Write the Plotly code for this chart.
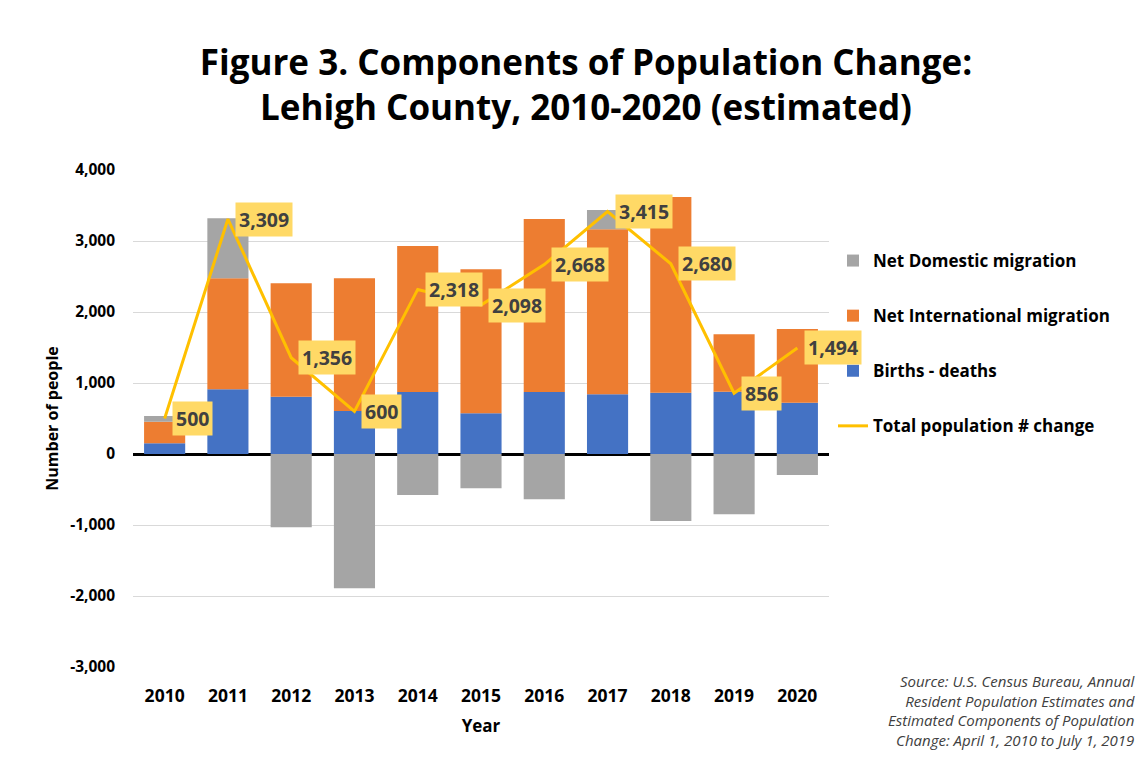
import plotly.graph_objects as go

years = ["2010", "2011", "2012", "2013", "2014", "2015", "2016", "2017", "2018", "2019", "2020"]
births_deaths = [150, 911, 807, 606, 873, 573, 873, 840, 864, 878, 723]
net_international = [305, 1564, 1597, 1869, 2057, 2028, 2437, 2324, 2756, 808, 1038]
net_domestic = [80, 844, -1030, -1890, -577, -483, -638, 273, -944, -849, -296]
total_change = [500, 3309, 1356, 600, 2318, 2098, 2668, 3415, 2680, 856, 1494]
total_labels = ["500", "3,309", "1,356", "600", "2,318", "2,098", "2,668", "3,415", "2,680", "856", "1,494"]
y_tick_values = [-3000, -2000, -1000, 0, 1000, 2000, 3000, 4000]
y_tick_labels = ["-3,000", "-2,000", "-1,000", "0", "1,000", "2,000", "3,000", "4,000"]

FONT = "Open Sans"
W, H = 1140, 757
L, T, PW, PH = 125, 162, 696, 497

fig = go.Figure()
fig.add_trace(go.Bar(x=years, y=births_deaths, name="Births - deaths",
                     marker=dict(color="#4472C4", line=dict(width=0)),
                     legendrank=3, legendgroup="b"))
fig.add_trace(go.Bar(x=years, y=net_international, name="Net International migration",
                     marker=dict(color="#ED7D31", line=dict(width=0)),
                     legendrank=2, legendgroup="i"))
fig.add_trace(go.Bar(x=years, y=net_domestic, name="Net Domestic migration",
                     marker=dict(color="#A5A5A5", line=dict(width=0)),
                     legendrank=1, legendgroup="d"))
fig.add_trace(go.Scatter(x=years, y=total_change, name="Total population # change",
                         mode="lines", line=dict(color="#FFC000", width=3),
                         legendrank=4, legendgroup="t"))

# category axis: annotations use the category index
for i, (v, lab) in enumerate(zip(total_change, total_labels)):
    fig.add_annotation(x=i, y=v, xref="x", yref="y", text=lab, showarrow=False,
                       xanchor="left", yanchor="middle", xshift=7,
                       bgcolor="#FFD966", borderpad=3,
                       font=dict(family=FONT, size=19.5, color="#404040", weight="bold"))

fig.add_annotation(xref="paper", yref="paper", x=(1130 - L) / PW, y=(T + PH - 661) / PH,
                   xanchor="right", yanchor="top", align="right", showarrow=False,
                   text="Source: U.S. Census Bureau, Annual<br>Resident Population Estimates and<br>Estimated Components of Population<br>Change: April 1, 2010 to July 1, 2019",
                   font=dict(family=FONT, size=15, color="#404040", style="italic"))

fig.update_layout(
    width=W, height=H,
    paper_bgcolor="white", plot_bgcolor="white",
    margin=dict(l=L, r=W - L - PW, t=T, b=H - T - PH, autoexpand=False),
    barmode="relative", bargap=0.35,
    title=dict(text="<b>Figure 3. Components of Population Change:<br>Lehigh County, 2010-2020 (estimated)</b>",
               x=578 / W, xanchor="center", y=0.912, yanchor="top",
               font=dict(family=FONT, size=35, color="black")),
    legend=dict(x=(825 - L) / PW, xanchor="left", y=(T + PH - 235) / PH, yanchor="top",
                font=dict(family=FONT, size=17, color="black", weight="bold"),
                tracegroupgap=30, itemwidth=30, bgcolor="rgba(0,0,0,0)"),
    font=dict(family=FONT),
)
fig.update_xaxes(type="category", range=[-0.5, 10.5],
                 title=dict(text="<b>Year</b>", font=dict(size=17, color="black"), standoff=14),
                 tickfont=dict(size=17.5, color="black", weight="bold"), showline=False, ticks="",
                 ticklabelstandoff=16)
fig.update_yaxes(range=[-3000, 4000], tickvals=y_tick_values, ticktext=y_tick_labels,
                 title=dict(text="<b>Number of people</b>", font=dict(size=16, color="black"), standoff=7),
                 tickfont=dict(size=15.5, color="black", weight="bold"),
                 gridcolor="#D9D9D9", gridwidth=1, zeroline=True, zerolinecolor="black", zerolinewidth=3,
                 ticks="", showline=False, ticklabelstandoff=17)

fig.write_html("out.html")
